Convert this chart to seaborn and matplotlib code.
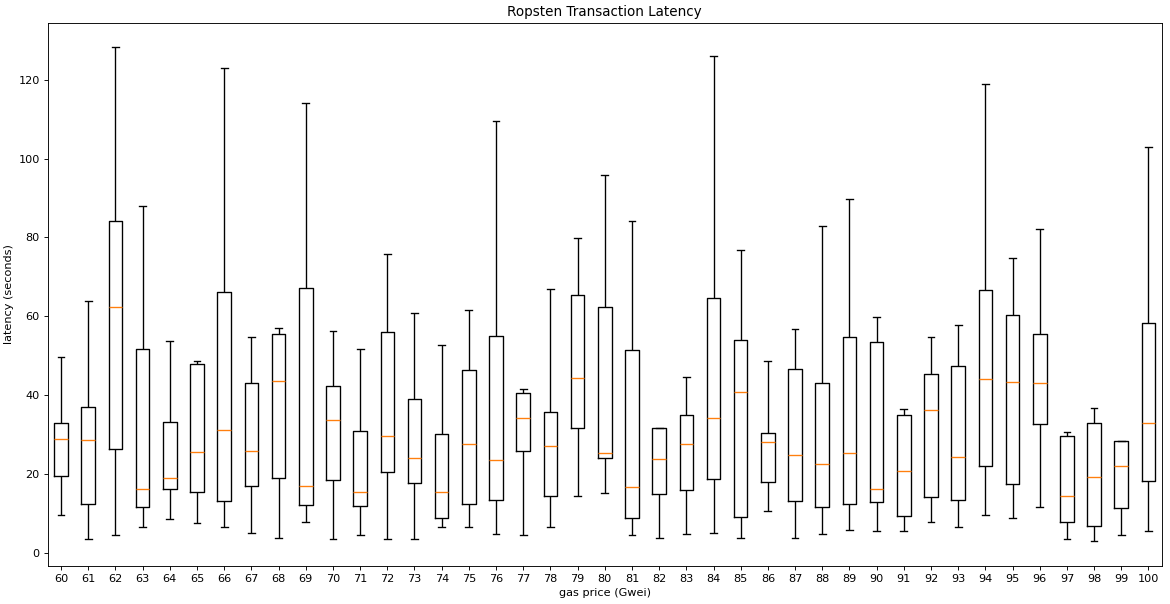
import numpy as np
import pandas as pd
import matplotlib
matplotlib.use("Agg")
import matplotlib.pyplot as plt
import seaborn as sns

# gas price categories (Gwei)
gas_prices = [str(g) for g in range(60, 101)]

# five-number summary per gas price
whisker_low = [9.6, 3.6, 4.5, 6.6, 8.6, 7.6, 6.6, 5.2, 3.9, 8.0,
               3.6, 4.6, 3.6, 3.6, 6.6, 6.6, 4.8, 4.5, 6.6, 14.5,
               15.2, 4.5, 3.9, 4.8, 5.1, 3.9, 10.6, 3.9, 4.8, 5.9,
               5.5, 5.5, 7.9, 6.6, 9.6, 8.9, 11.7, 3.6, 3.0, 4.5, 5.5]
q1 = [19.5, 12.4, 26.3, 11.7, 16.2, 15.5, 13.1, 17.0, 19.1, 12.2,
      18.5, 11.9, 20.5, 17.7, 9.0, 12.4, 13.4, 25.8, 14.5, 31.8,
      24.1, 9.0, 14.9, 15.9, 18.7, 9.1, 18.0, 13.1, 11.7, 12.4,
      12.9, 9.4, 14.2, 13.4, 22.0, 17.5, 32.7, 7.9, 6.8, 11.4, 18.2]
median = [29.0, 28.6, 62.5, 16.3, 19.1, 25.6, 31.2, 25.9, 43.6, 17.0,
          33.7, 15.5, 29.6, 24.2, 15.5, 27.6, 23.6, 34.3, 27.1, 44.4,
          25.5, 16.7, 23.9, 27.6, 34.3, 40.8, 28.1, 24.9, 22.5, 25.3,
          16.3, 20.7, 36.3, 24.3, 44.2, 43.3, 43.1, 14.4, 19.3, 22.0, 32.9]
q3 = [32.9, 37.0, 84.1, 51.7, 33.2, 47.9, 66.2, 43.1, 55.5, 67.2,
      42.3, 30.9, 56.0, 39.0, 30.1, 46.3, 54.9, 40.5, 35.7, 65.3,
      62.5, 51.4, 31.8, 34.9, 64.7, 53.9, 30.4, 46.6, 43.1, 54.8,
      53.4, 34.9, 45.3, 47.3, 66.6, 60.3, 55.5, 29.6, 33.1, 28.3, 58.3]
whisker_high = [49.7, 63.8, 128.2, 87.9, 53.7, 48.6, 123.0, 54.8, 57.1, 114.1,
                56.2, 51.7, 75.7, 60.8, 52.7, 61.5, 109.6, 41.5, 66.9, 79.9,
                95.7, 84.1, 31.8, 44.6, 125.9, 76.7, 48.6, 56.7, 82.8, 89.7,
                59.8, 36.5, 54.8, 57.7, 118.8, 74.8, 82.1, 30.6, 36.7, 28.5, 102.9]

rows = []
for i, g in enumerate(gas_prices):
    for v in (whisker_low[i], q1[i], median[i], q3[i], whisker_high[i]):
        rows.append({"gas price (Gwei)": g, "latency (seconds)": v})
df = pd.DataFrame(rows)

DPI = 81.25
fig, ax = plt.subplots(figsize=(1170 / DPI, 604 / DPI), dpi=DPI)
fig.patch.set_facecolor("white")

sns.boxplot(data=df, x="gas price (Gwei)", y="latency (seconds)",
            order=gas_prices, ax=ax, fill=False, color="black",
            linewidth=1.2, width=0.5, whis=(0, 100), showfliers=False,
            medianprops={"color": "#ff7f0e"})

ax.set_title("Ropsten Transaction Latency")
ax.set_xlabel("gas price (Gwei)")
ax.set_ylabel("latency (seconds)")

fig.subplots_adjust(left=0.0406, right=0.9932, top=0.9627, bottom=0.0629)
fig.savefig("out.png", dpi=DPI, facecolor="white")
